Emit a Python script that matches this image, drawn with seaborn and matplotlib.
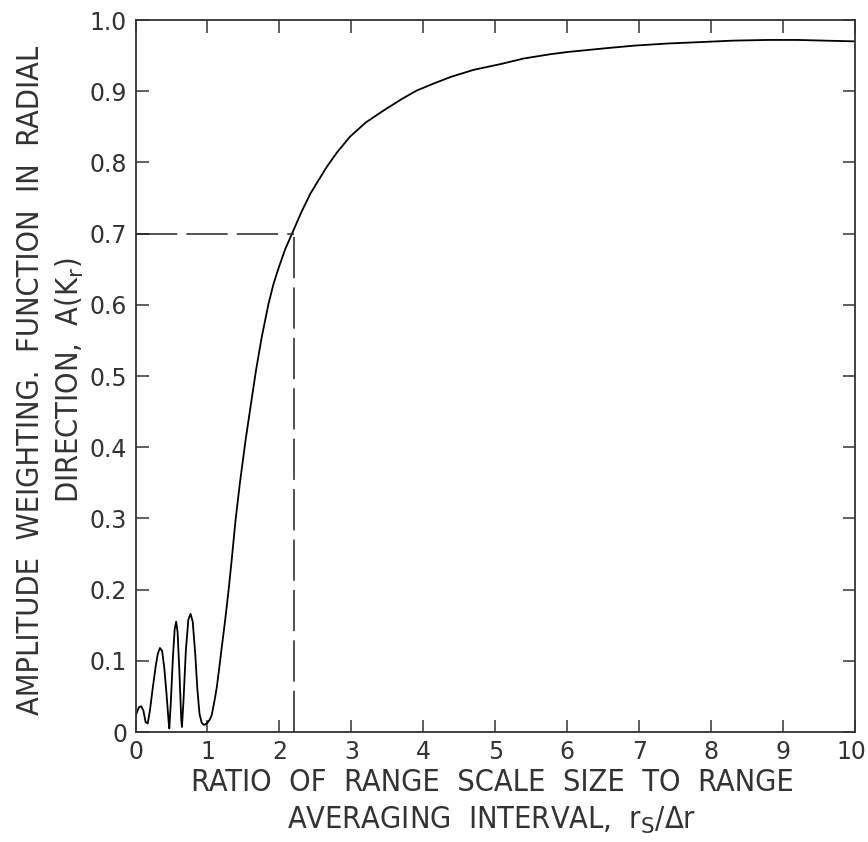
import matplotlib
matplotlib.use("Agg")
import matplotlib.pyplot as plt
import matplotlib.transforms as mtransforms
import seaborn as sns
import pandas as pd

# ---- data ----
ratio = [0.00, 0.02, 0.05, 0.08, 0.11, 0.14, 0.17, 0.20, 0.24, 0.28, 0.31, 0.34,
         0.37, 0.40, 0.43, 0.46, 0.47, 0.49, 0.52, 0.545, 0.565, 0.585, 0.61,
         0.635, 0.645, 0.665, 0.70, 0.735, 0.765, 0.795, 0.83, 0.86, 0.89, 0.92,
         0.95, 0.975, 1.00, 1.03, 1.06, 1.10, 1.13, 1.17, 1.20, 1.24, 1.27, 1.30,
         1.34, 1.39, 1.45, 1.53, 1.605, 1.675, 1.755, 1.85, 1.92, 1.99, 2.08, 2.18,
         2.30, 2.43, 2.55, 2.66, 2.80, 2.98, 3.20, 3.45, 3.70, 3.91, 4.15, 4.38,
         4.70, 5.07, 5.40, 5.77, 6.00, 6.50, 6.93, 7.40, 7.86, 8.30, 8.79, 9.20,
         9.58, 10.0]
amplitude = [0.021, 0.028, 0.035, 0.036, 0.030, 0.014, 0.012, 0.030, 0.062, 0.092,
             0.110, 0.118, 0.114, 0.090, 0.055, 0.015, 0.005, 0.040, 0.105, 0.145,
             0.155, 0.140, 0.085, 0.020, 0.007, 0.040, 0.115, 0.158, 0.166, 0.155,
             0.110, 0.060, 0.025, 0.013, 0.010, 0.011, 0.013, 0.017, 0.024, 0.045,
             0.063, 0.095, 0.120, 0.152, 0.178, 0.205, 0.245, 0.297, 0.349, 0.410,
             0.461, 0.508, 0.555, 0.602, 0.630, 0.652, 0.678, 0.701, 0.729, 0.756,
             0.776, 0.794, 0.814, 0.836, 0.856, 0.873, 0.889, 0.901, 0.911, 0.920,
             0.930, 0.938, 0.946, 0.952, 0.955, 0.960, 0.964, 0.967, 0.969, 0.971,
             0.972, 0.972, 0.971, 0.970]
ref_x = 2.2
ref_y = 0.7
x_ticks = [0, 1, 2, 3, 4, 5, 6, 7, 8, 9, 10]
y_ticks = [0.0, 0.1, 0.2, 0.3, 0.4, 0.5, 0.6, 0.7, 0.8, 0.9, 1.0]
y_tick_labels = ["0", "0.1", "0.2", "0.3", "0.4", "0.5", "0.6", "0.7", "0.8", "0.9", "1.0"]
x_label = "RATIO  OF  RANGE  SCALE  SIZE  TO  RANGE\nAVERAGING  INTERVAL,  r$_\\mathrm{S}$/Δr"
y_label = "AMPLITUDE  WEIGHTING.  FUNCTION  IN  RADIAL\nDIRECTION,  A(K$_\\mathrm{r}$)"

sns.set_theme(style="ticks")
plt.rcParams["font.family"] = ["DejaVu Sans"]
plt.rcParams["mathtext.fontset"] = "dejavusans"

df = pd.DataFrame({"ratio": ratio, "amplitude": amplitude})

W, H = 868, 842
fig = plt.figure(figsize=(W / 100, H / 100), dpi=100)
ax = fig.add_axes([135.5 / W, 1 - 732 / H, (855 - 135.5) / W, (732 - 20) / H])

sns.lineplot(data=df, x="ratio", y="amplitude", ax=ax, color="black",
             linewidth=1.3, errorbar=None)

ax.plot([0, ref_x], [ref_y, ref_y], color="#222222", linewidth=1.1,
        dashes=(27, 6))
ax.plot([ref_x, ref_x], [0, ref_y], color="#222222", linewidth=1.1,
        dashes=(27, 6))

ax.set_xlim(0, 10)
ax.set_ylim(0, 1.0)
ax.set_xticks(x_ticks)
ax.set_yticks(y_ticks)
ax.set_yticklabels(y_tick_labels)
ax.set_xlabel("")
ax.set_ylabel("")

ax.tick_params(axis="both", which="both", direction="in", length=9, width=1.1,
               color="#333333", top=True, right=True, labelsize=17,
               labelcolor="#333333", pad=6)
for sp in ax.spines.values():
    sp.set_linewidth(1.3)
    sp.set_color("#333333")

# keep the last x tick label inside the canvas
last = ax.get_xticklabels()[-1]
last.set_transform(last.get_transform() +
                   mtransforms.ScaledTranslation(-4 / 100, 0, fig.dpi_scale_trans))

lab_kw = dict(fontsize=22, color="#333333", fontstretch="condensed",
              family=["DejaVu Sans"], ha="center", va="center",
              multialignment="center", linespacing=1.35)
fig.text(492 / W, 1 - 802 / H, x_label, **lab_kw)
fig.text(51 / W, 1 - 380 / H, y_label, rotation=90, **lab_kw)

fig.savefig("out.png", dpi=100)
